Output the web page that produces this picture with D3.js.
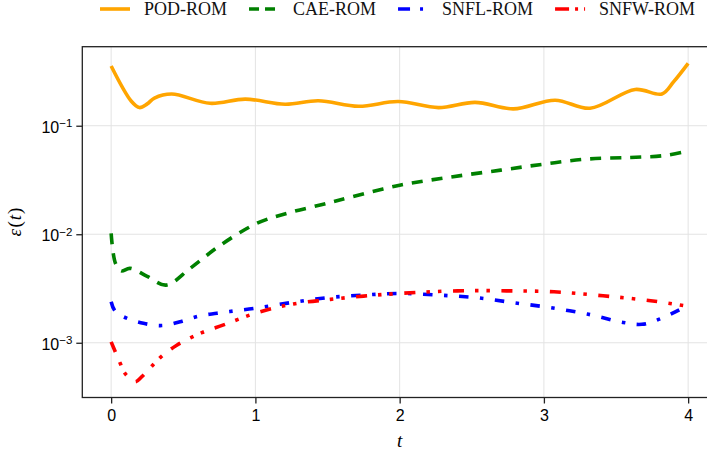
<!DOCTYPE html>
<html>
<head>
<meta charset="utf-8">
<script src="https://cdn.jsdelivr.net/npm/d3@7/dist/d3.min.js"></script>
<style>
  html, body { margin: 0; padding: 0; background: #fff; }
  svg { display: block; }
</style>
</head>
<body>
<svg id="chart" width="707" height="456"></svg>
<script>
// Relative error ε(t) of four reduced-order models over time t
const seriesNames = ["POD-ROM", "CAE-ROM", "SNFL-ROM", "SNFW-ROM"];

const podT = [0, 0.14, 0.196, 0.25, 0.3, 0.42, 0.686, 0.93, 1.206, 1.437, 1.715, 1.99, 2.269, 2.523, 2.789, 3.078, 3.32, 3.633, 3.818, 3.9, 4.0];
const podE = [0.355, 0.168, 0.147, 0.159, 0.180, 0.196, 0.161, 0.176, 0.158, 0.170, 0.151, 0.167, 0.147, 0.164, 0.143, 0.172, 0.145, 0.216, 0.196, 0.255, 0.376];

const caeT = [0, 0.03, 0.07, 0.13, 0.25, 0.381, 0.548, 0.756, 1.01, 1.218, 1.449, 1.66, 2.0, 2.35, 2.7, 3.0, 3.3, 3.6, 3.83, 3.98];
const caeE = [0.0102, 0.0054, 0.0046, 0.00485, 0.0041, 0.0034, 0.00485, 0.0079, 0.0126, 0.0156, 0.0186, 0.022, 0.0283, 0.0336, 0.039, 0.0443, 0.0493, 0.051, 0.053, 0.0576];

const snflT = [0, 0.028, 0.109, 0.224, 0.351, 0.478, 0.605, 0.733, 0.86, 0.987, 1.241, 1.495, 1.75, 2.0, 2.27, 2.535, 2.79, 3.04, 3.3, 3.55, 3.68, 3.8, 3.99];
const snflE = [0.00239, 0.00195, 0.00168, 0.00151, 0.00144, 0.00156, 0.00176, 0.00187, 0.00197, 0.00207, 0.00234, 0.0026, 0.00275, 0.00285, 0.00275, 0.0026, 0.00234, 0.00211, 0.00184, 0.00154, 0.00148, 0.00165, 0.00218];

const snfwT = [0, 0.028, 0.062, 0.097, 0.166, 0.213, 0.34, 0.455, 0.629, 0.779, 1.01, 1.264, 1.52, 1.75, 2.0, 2.4, 2.74, 3.07, 3.41, 3.74, 3.99];
const snfwE = [0.00102, 0.00083, 0.00065, 0.00052, 0.000437, 0.000487, 0.00073, 0.00095, 0.00124, 0.00146, 0.00189, 0.00228, 0.00251, 0.00269, 0.00285, 0.00301, 0.00301, 0.00295, 0.00271, 0.00244, 0.00218];

const xTicks = [0, 1, 2, 3, 4];
const yTicks = [1e-3, 1e-2, 1e-1];
const yTickExps = ["−3", "−2", "−1"];

const series = [
  { name: seriesNames[0], t: podT,  e: podE,  color: "#ffa500", width: 3.6, dash: null,                 legendDash: null },
  { name: seriesNames[1], t: caeT,  e: caeE,  color: "#008000", width: 3.6, dash: "11,9",               legendDash: "10,6" },
  { name: seriesNames[2], t: snflT, e: snflE, color: "#0000ff", width: 3.6, dash: "9.5,11.5,3.5,11.5",  legendDash: "12,10,3,9" },
  { name: seriesNames[3], t: snfwT, e: snfwE, color: "#ff0000", width: 3.6, dash: "11,11,3.5,8,3.5,11.5", legendDash: "14,6,3,6,3,6" }
];

const svg = d3.select("#chart");
const plot = { left: 82.3, right: 717, top: 46.7, bottom: 397.5 };

const x = d3.scaleLinear().domain([-0.2, 4.2]).range([plot.left, plot.right]);
const y = d3.scaleLog().domain([3.13e-4, 0.535]).range([plot.bottom, plot.top]);

svg.append("defs").append("clipPath").attr("id", "plotClip")
  .append("rect")
  .attr("x", plot.left).attr("y", plot.top)
  .attr("width", plot.right - plot.left).attr("height", plot.bottom - plot.top);

// grid
const grid = svg.append("g");
grid.selectAll("line.gx").data(xTicks).join("line")
  .attr("x1", d => x(d)).attr("x2", d => x(d))
  .attr("y1", plot.top).attr("y2", plot.bottom)
  .attr("stroke", "#e3e3e3").attr("stroke-width", 1);
grid.selectAll("line.gy").data(yTicks).join("line")
  .attr("y1", d => y(d)).attr("y2", d => y(d))
  .attr("x1", plot.left).attr("x2", plot.right)
  .attr("stroke", "#e3e3e3").attr("stroke-width", 1);

// data lines
const line = d3.line().curve(d3.curveCatmullRom.alpha(0.5));
const lines = svg.append("g").attr("clip-path", "url(#plotClip)");
series.forEach(s => {
  const pts = s.t.map((t, i) => [x(t), y(s.e[i])]);
  lines.append("path")
    .attr("d", line(pts))
    .attr("fill", "none")
    .attr("stroke", s.color)
    .attr("stroke-width", s.width)
    .attr("stroke-dasharray", s.dash)
    .attr("stroke-linejoin", "round");
});

// frame
svg.append("rect")
  .attr("x", plot.left).attr("y", plot.top)
  .attr("width", plot.right - plot.left).attr("height", plot.bottom - plot.top)
  .attr("fill", "none").attr("stroke", "#222").attr("stroke-width", 1.3);

// x axis
const xAxis = d3.axisBottom(x).tickValues(xTicks).tickSize(6).tickPadding(6).tickFormat(d3.format("d"));
const gx = svg.append("g").attr("transform", `translate(0,${plot.bottom})`).call(xAxis);
gx.select(".domain").remove();
gx.selectAll(".tick line").attr("stroke", "#222").attr("stroke-width", 1.3);
gx.selectAll(".tick text").attr("fill", "#000")
  .style("font-family", "'Liberation Sans', Arial, sans-serif").style("font-size", "16px");

// y axis with power-of-ten labels
const yAxis = d3.axisLeft(y).tickValues(yTicks).tickSize(6).tickPadding(5).tickFormat("");
const gy = svg.append("g").attr("transform", `translate(${plot.left},0)`).call(yAxis);
gy.select(".domain").remove();
gy.selectAll(".tick line").attr("stroke", "#222").attr("stroke-width", 1.3);
gy.selectAll(".tick text").each(function(d, i) {
  const tx = d3.select(this)
    .attr("x", -10).attr("dy", "0.4em")
    .attr("text-anchor", "end").attr("fill", "#000")
    .style("font-family", "'Liberation Sans', Arial, sans-serif").style("font-size", "16px");
  tx.append("tspan").text("10");
  tx.append("tspan").attr("dy", "-0.45em").style("font-size", "11.5px").text(yTickExps[i]);
});

// axis titles
svg.append("text")
  .attr("x", (plot.left + plot.right) / 2).attr("y", 447)
  .attr("text-anchor", "middle")
  .style("font-family", "'Liberation Serif', 'Times New Roman', serif")
  .style("font-size", "19px").style("font-style", "italic")
  .text("t");

const yl = svg.append("text")
  .attr("transform", `translate(21,${(plot.top + plot.bottom) / 2}) rotate(-90)`)
  .attr("text-anchor", "middle")
  .style("font-family", "'Liberation Serif', 'Times New Roman', serif")
  .style("font-size", "19px");
yl.append("tspan").style("font-style", "italic").text("ε");
yl.append("tspan").attr("dx", 1.5).text("(");
yl.append("tspan").attr("dx", 1).style("font-style", "italic").text("t");
yl.append("tspan").attr("dx", 1).text(")");

// legend
const legend = svg.append("g");
let lx = 100;
series.forEach(s => {
  const g = legend.append("g").attr("transform", `translate(${lx},9)`);
  g.append("line").attr("x1", 0).attr("x2", 30).attr("y1", 0).attr("y2", 0)
    .attr("stroke", s.color).attr("stroke-width", s.width)
    .attr("stroke-dasharray", s.legendDash);
  const txt = g.append("text").attr("x", 44).attr("y", 0).attr("dy", "0.36em")
    .style("font-family", "'Liberation Serif', 'Times New Roman', serif")
    .style("font-size", "18px").attr("fill", "#111")
    .text(s.name);
  lx += 44 + txt.node().getComputedTextLength() + 22;
});
</script>
</body>
</html>
